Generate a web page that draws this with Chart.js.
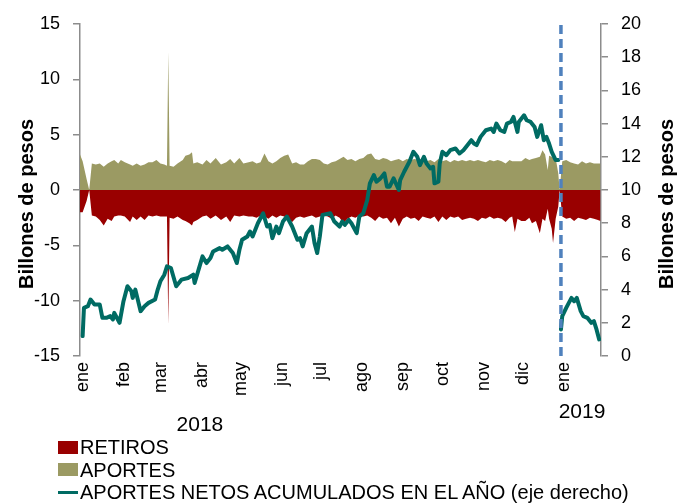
<!DOCTYPE html>
<html><head><meta charset="utf-8">
<script src="https://cdn.jsdelivr.net/npm/chart.js@4.4.1/dist/chart.umd.min.js"></script>
<style>
html,body{margin:0;padding:0;background:#fff;}
#wrap{position:relative;width:679px;height:503px;}
#legend{position:absolute;left:58px;top:436px;font-family:"Liberation Sans",Arial,sans-serif;font-size:20px;color:#000;line-height:22.5px;}
.item{display:flex;align-items:center;white-space:nowrap;height:22.5px;}
.sw{display:inline-block;width:20px;height:13px;margin-right:2px;}
.ln{display:inline-block;width:20px;height:3px;margin-right:2px;}
</style></head><body>
<div id="wrap"><canvas id="c" width="679" height="503"></canvas><div id="legend"></div></div>
<script>
// ---------- DATA ----------
const flowDates = [
"2018-01-01","2018-01-03","2018-01-06","2018-01-08","2018-01-10","2018-01-13","2018-01-16","2018-01-19","2018-01-22","2018-01-25",
"2018-01-27","2018-01-30","2018-02-01","2018-02-04","2018-02-08","2018-02-10","2018-02-13","2018-02-16","2018-02-19","2018-02-22",
"2018-02-25","2018-02-28","2018-03-03","2018-03-06","2018-03-08","2018-03-09","2018-03-10","2018-03-13","2018-03-16","2018-03-20",
"2018-03-22","2018-03-25","2018-03-27","2018-03-28","2018-03-31","2018-04-04","2018-04-07","2018-04-10","2018-04-14","2018-04-18",
"2018-04-22","2018-04-25","2018-04-28","2018-05-02","2018-05-05","2018-05-09","2018-05-12","2018-05-15","2018-05-18","2018-05-21",
"2018-05-24","2018-05-27","2018-05-30","2018-06-02","2018-06-05","2018-06-08","2018-06-11","2018-06-14","2018-06-17","2018-06-20",
"2018-06-23","2018-06-26","2018-06-29","2018-07-02","2018-07-05","2018-07-08","2018-07-11","2018-07-14","2018-07-17","2018-07-20",
"2018-07-23","2018-07-26","2018-07-29","2018-08-01","2018-08-04","2018-08-07","2018-08-10","2018-08-13","2018-08-16","2018-08-19",
"2018-08-22","2018-08-25","2018-08-28","2018-08-31","2018-09-03","2018-09-06","2018-09-09","2018-09-12","2018-09-15","2018-09-18",
"2018-09-21","2018-09-24","2018-09-27","2018-09-30","2018-10-03","2018-10-06","2018-10-09","2018-10-12","2018-10-15","2018-10-18",
"2018-10-21","2018-10-24","2018-10-27","2018-10-30","2018-11-02","2018-11-05","2018-11-08","2018-11-11","2018-11-14","2018-11-17",
"2018-11-20","2018-11-23","2018-11-25","2018-11-27","2018-11-29","2018-12-02","2018-12-05","2018-12-08","2018-12-10","2018-12-13",
"2018-12-16","2018-12-18","2018-12-20","2018-12-22","2018-12-23","2018-12-25","2018-12-26","2018-12-28","2018-12-30","2018-12-31",
"2019-01-02","2019-01-05","2019-01-08","2019-01-11","2019-01-14","2019-01-17","2019-01-20","2019-01-23","2019-01-26","2019-01-29",
"2019-01-31"];
const aportes = [
3.2,2.6,1.0,0.0,2.4,2.3,2.4,2.1,2.4,2.6,
2.7,2.4,2.7,2.5,2.3,2.2,2.4,2.2,2.3,2.5,
2.5,2.7,2.4,2.3,2.2,12.5,2.2,2.1,2.4,2.7,
3.1,3.2,3.4,2.4,2.5,2.3,2.7,2.4,2.9,2.3,
2.5,2.8,2.4,2.9,2.4,2.5,2.6,2.4,2.5,3.3,
2.6,2.4,2.6,2.9,3.1,3.2,2.4,2.5,2.3,2.3,
2.6,2.8,2.8,2.7,2.4,2.3,2.5,2.6,2.8,3.0,
2.7,2.8,2.6,2.8,2.9,3.2,3.3,2.8,2.7,2.9,
2.8,2.6,2.7,2.8,2.6,2.8,2.7,2.8,2.7,2.8,
2.6,2.7,2.5,2.8,2.6,2.7,2.5,2.7,2.6,2.7,
2.6,2.7,2.6,2.7,2.6,2.5,2.7,2.6,2.7,2.6,
2.4,2.7,2.6,2.6,2.6,2.6,2.9,2.7,2.8,2.9,
3.0,3.6,3.2,1.8,3.1,3.0,2.9,2.9,1.5,0.0,
2.6,2.7,2.5,2.4,2.3,2.6,2.4,2.5,2.4,2.4,
2.4];
const retiros = [
-2.0,-2.0,-1.0,0.0,-2.3,-2.4,-2.7,-3.2,-2.6,-2.8,
-2.4,-2.3,-2.3,-2.4,-2.9,-2.4,-2.7,-2.4,-2.7,-2.3,
-2.4,-2.3,-2.4,-2.4,-2.4,-12.2,-2.5,-2.6,-2.4,-2.7,
-2.8,-3.0,-3.2,-2.9,-2.7,-2.4,-2.3,-2.6,-2.3,-2.7,
-2.4,-2.9,-2.3,-2.4,-2.3,-2.4,-2.4,-2.5,-2.3,-2.4,
-2.6,-2.3,-2.5,-2.3,-2.4,-2.6,-2.9,-2.5,-2.4,-2.5,
-2.4,-2.3,-2.5,-2.4,-2.3,-2.4,-2.6,-2.3,-2.5,-3.0,
-2.6,-2.4,-2.5,-2.3,-2.4,-2.3,-2.5,-2.8,-2.4,-2.6,
-2.5,-3.0,-2.5,-3.3,-2.6,-2.4,-2.6,-2.5,-2.8,-2.4,
-2.5,-2.6,-2.4,-2.9,-2.4,-2.7,-2.4,-2.5,-2.4,-2.7,
-2.6,-2.5,-2.6,-2.8,-2.5,-2.6,-2.4,-2.6,-2.5,-2.6,
-2.9,-2.5,-2.4,-3.8,-2.6,-2.8,-2.8,-2.5,-3.0,-2.8,
-3.9,-2.6,-2.8,-1.7,-2.6,-3.5,-4.8,-2.6,-1.5,0.0,
-2.4,-2.6,-2.5,-2.8,-2.5,-2.6,-2.7,-2.5,-2.6,-2.7,
-2.8];
const lineDates = [
"2018-01-03","2018-01-04","2018-01-07","2018-01-09","2018-01-12","2018-01-16","2018-01-18","2018-01-21","2018-01-24","2018-01-26",
"2018-01-27","2018-01-31","2018-02-03","2018-02-06","2018-02-09","2018-02-10","2018-02-12","2018-02-16","2018-02-19","2018-02-22",
"2018-02-27","2018-03-01","2018-03-03","2018-03-06","2018-03-08","2018-03-11","2018-03-15","2018-03-19","2018-03-24","2018-03-28",
"2018-03-29","2018-04-01","2018-04-04","2018-04-07","2018-04-10","2018-04-12","2018-04-17","2018-04-19","2018-04-23","2018-04-27",
"2018-04-30","2018-05-02","2018-05-04","2018-05-08","2018-05-10","2018-05-12","2018-05-16","2018-05-20","2018-05-23","2018-05-25",
"2018-05-27","2018-05-30","2018-06-01","2018-06-04","2018-06-07","2018-06-11","2018-06-15","2018-06-17","2018-06-19","2018-06-22",
"2018-06-26","2018-06-28","2018-06-30","2018-07-02","2018-07-04","2018-07-10","2018-07-13","2018-07-17","2018-07-19","2018-07-21",
"2018-07-24","2018-07-26","2018-07-30","2018-08-01","2018-08-04","2018-08-07","2018-08-09","2018-08-12","2018-08-14","2018-08-17",
"2018-08-20","2018-08-22","2018-08-24","2018-08-27","2018-08-31","2018-09-01","2018-09-04","2018-09-08","2018-09-11","2018-09-14",
"2018-09-16","2018-09-19","2018-09-21","2018-09-24","2018-09-26","2018-09-27","2018-09-30","2018-10-01","2018-10-03","2018-10-06",
"2018-10-09","2018-10-13","2018-10-16","2018-10-19","2018-10-22","2018-10-25","2018-10-27","2018-10-29","2018-11-01","2018-11-05",
"2018-11-09","2018-11-11","2018-11-13","2018-11-16","2018-11-19","2018-11-21","2018-11-24","2018-11-26","2018-11-29","2018-11-30",
"2018-12-04","2018-12-06","2018-12-09","2018-12-12","2018-12-14","2018-12-17","2018-12-19","2018-12-21","2018-12-23","2018-12-25",
"2018-12-28","2018-12-30","2018-12-31",
"2019-01-01","2019-01-02","2019-01-05","2019-01-09","2019-01-11","2019-01-13","2019-01-16","2019-01-18","2019-01-21","2019-01-24",
"2019-01-26","2019-01-28","2019-01-30"];
const netAcumulado = [
1.2,2.9,3.0,3.4,3.1,3.1,2.3,2.3,2.4,2.2,
2.6,2.0,3.3,4.2,3.9,3.5,4.0,2.7,3.0,3.2,
3.4,4.0,4.5,4.9,5.4,5.3,4.2,4.6,4.7,4.9,
4.4,5.2,6.0,5.6,5.9,6.3,6.5,6.4,6.6,6.2,
5.6,6.4,7.0,7.2,7.5,7.2,8.0,8.6,7.8,7.9,
7.1,7.8,7.4,8.1,8.4,7.8,7.0,7.1,6.6,7.4,
7.8,6.8,6.2,7.2,8.5,8.6,8.1,7.8,8.1,7.9,
8.2,8.0,7.4,8.4,8.6,9.4,10.4,10.9,10.5,10.7,
11.0,10.2,10.2,10.7,10.0,10.6,11.1,11.7,12.3,12.0,
11.5,12.0,11.6,11.3,11.4,10.4,10.5,11.6,12.3,12.1,
12.4,12.5,12.2,12.4,12.7,13.0,12.8,12.7,13.2,13.6,
13.7,13.5,14.0,13.6,13.5,14.0,14.1,14.4,13.5,14.1,
14.5,14.2,14.1,13.8,13.2,13.9,13.0,13.2,12.8,12.3,
11.8,11.8,null,
1.6,2.4,2.9,3.5,3.3,3.5,2.7,2.4,2.3,2.0,
2.1,1.6,1.0];
const monthTickDates = ["2018-01-01","2018-02-01","2018-03-01","2018-04-01","2018-05-01","2018-06-01","2018-07-01",
"2018-08-01","2018-09-01","2018-10-01","2018-11-01","2018-12-01","2019-01-01"];
const monthTickLabels = ["ene","feb","mar","abr","may","jun","jul","ago","sep","oct","nov","dic","ene"];
const yearLabels = ["2018","2019"];
const yearLabelDates = ["2018-04-02","2019-01-17"];
const cutDate = "2019-01-01";
const seriesNames = ["RETIROS","APORTES","APORTES NETOS ACUMULADOS EN EL AÑO (eje derecho)"];
const axisTitle = "Billones de pesos";

// ---------- HELPERS ----------
function dayOf(s){const p=s.split('-').map(Number);return (Date.UTC(p[0],p[1]-1,p[2])-Date.UTC(2018,0,1))/86400000;}
const pts=(dates,vals)=>dates.map((d,i)=>({x:dayOf(d),y:vals[i]}));
const monthTicks=()=>monthTickDates.map(d=>({value:dayOf(d)}));
const FONT='"Liberation Sans", Arial, sans-serif';
Chart.defaults.font.family=FONT;
Chart.defaults.color='#000';
const AX='#8C8C8C';
const XMAX=395.4;

const extras={
  id:'extras',
  afterDraw(chart){
    const ctx=chart.ctx,x=chart.scales.x,yR=chart.scales.y1,yL=chart.scales.y,a=chart.chartArea;
    ctx.save();
    ctx.fillStyle='#000';ctx.textAlign='center';ctx.textBaseline='middle';
    ctx.font='21px '+FONT;
    yearLabels.forEach((t,i)=>ctx.fillText(t,x.getPixelForValue(dayOf(yearLabelDates[i])),a.bottom+(i===0?69:56)));
    ctx.font='bold 20px '+FONT;
    const cy=(a.top+a.bottom)/2+14;
    [[yL.left+27,cy],[yR.right-12,cy]].forEach(([px,py])=>{
      ctx.save();ctx.translate(px,py);ctx.rotate(-Math.PI/2);ctx.fillText(axisTitle,0,0);ctx.restore();
    });
    ctx.restore();
  }
};

const chart=new Chart(document.getElementById('c'),{
  type:'line',
  data:{datasets:[
    {label:'corte',data:[{x:dayOf(cutDate),y:-15},{x:dayOf(cutDate),y:15}],borderColor:'#4F81BD',borderWidth:3.5,borderDash:[9,5],pointRadius:0,fill:false,yAxisID:'y',order:0},
    {label:seriesNames[2],data:pts(lineDates,netAcumulado),borderColor:'#006B63',backgroundColor:'#006B63',borderWidth:4,pointRadius:0,fill:false,spanGaps:false,yAxisID:'y1',order:1,borderJoinStyle:'round',borderCapStyle:'round'},
    {label:seriesNames[1],data:pts(flowDates,aportes),borderWidth:0,borderColor:'rgba(0,0,0,0)',backgroundColor:'#9B9A63',pointRadius:0,fill:'origin',yAxisID:'y',order:2},
    {label:seriesNames[0],data:pts(flowDates,retiros),borderWidth:0,borderColor:'rgba(0,0,0,0)',backgroundColor:'#990000',pointRadius:0,fill:'origin',yAxisID:'y',order:3}
  ]},
  options:{
    responsive:false,animation:false,
    layout:{padding:{top:24,left:0,right:0,bottom:0}},
    plugins:{legend:{display:false},tooltip:{enabled:false}},
    scales:{
      x:{type:'linear',position:'bottom',min:0,max:XMAX,
        afterBuildTicks:s=>{s.ticks=monthTicks();},
        afterFit:s=>{s.height=147;},
        border:{display:false},grid:{display:false,drawTicks:false},
        ticks:{autoSkip:false,minRotation:90,maxRotation:90,padding:6,labelOffset:3,font:{size:18},color:'#000',
          callback:(v,i)=>monthTickLabels[i]}},
      x2:{type:'linear',position:{y:0},min:0,max:XMAX,z:1,
        afterBuildTicks:s=>{s.ticks=monthTicks();},
        border:{display:true,color:AX,width:1.5},
        grid:{drawOnChartArea:false,drawTicks:true,tickLength:6,color:AX,lineWidth:1.5},
        ticks:{display:false}},
      y:{position:'left',min:-15,max:15,
        afterFit:s=>{s.width=80;},
        border:{display:true,color:AX,width:1.5},
        grid:{drawOnChartArea:false,drawTicks:true,tickLength:7,color:AX,lineWidth:1.5},
        ticks:{stepSize:5,padding:13,font:{size:18},color:'#000'}},
      y1:{position:'right',min:0,max:20,
        afterFit:s=>{s.width=78;},
        border:{display:true,color:AX,width:1.5},
        grid:{drawOnChartArea:false,drawTicks:true,tickLength:7,color:AX,lineWidth:1.5},
        ticks:{stepSize:2,padding:13,font:{size:18},color:'#000'}}
    }
  },
  plugins:[extras]
});

// HTML legend built from the chart datasets
const lg=document.getElementById('legend');
[3,2,1].forEach(i=>{
  const ds=chart.data.datasets[i];
  const row=document.createElement('div');row.className='item';
  const m=document.createElement('span');
  m.className=i===1?'ln':'sw';
  m.style.background=i===1?ds.borderColor:ds.backgroundColor;
  row.appendChild(m);
  row.appendChild(document.createTextNode(ds.label));
  lg.appendChild(row);
});
</script>
</body></html>
